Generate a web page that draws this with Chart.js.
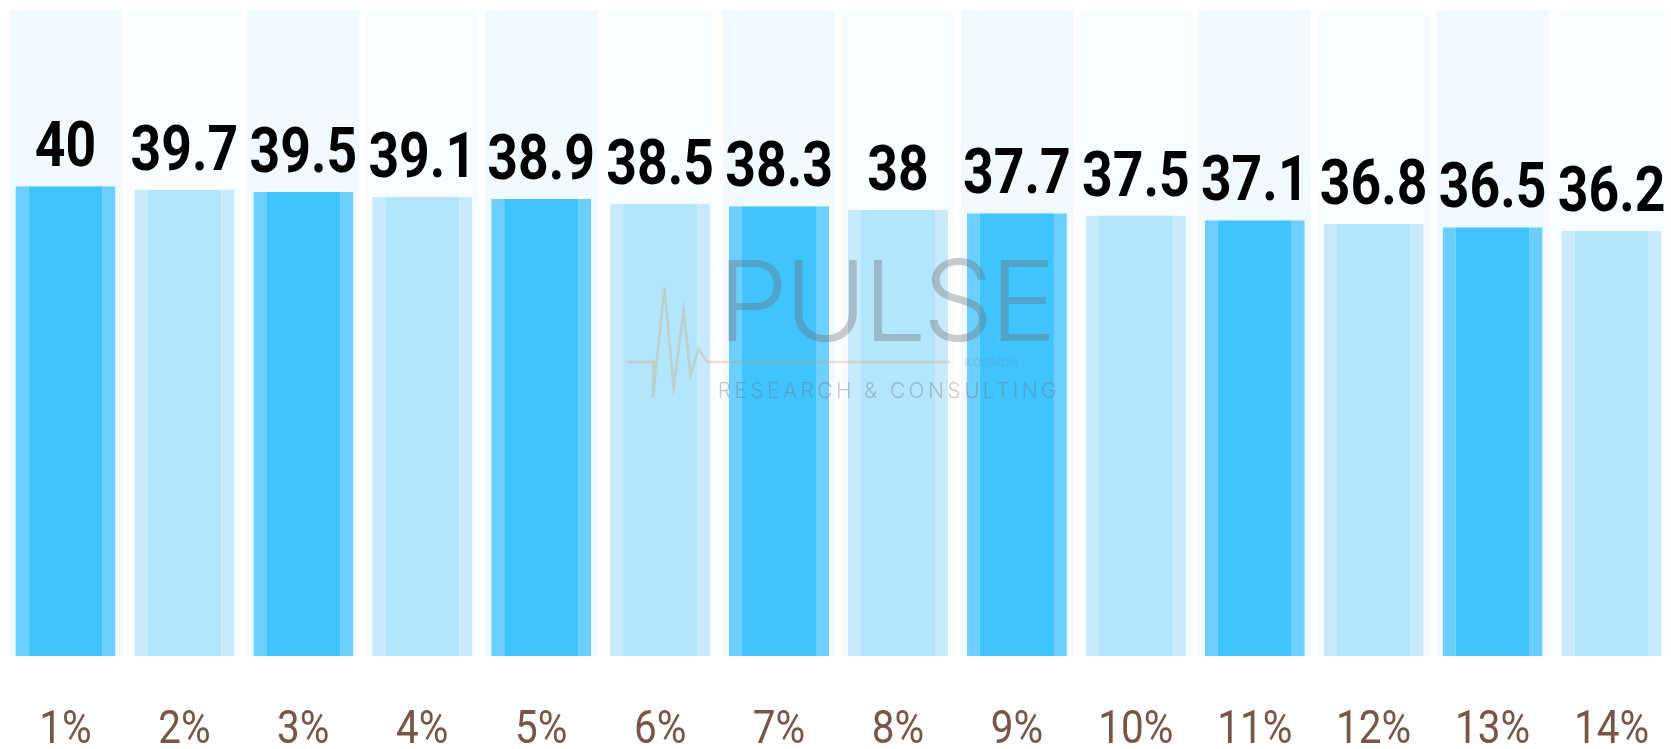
<!DOCTYPE html>
<html>
<head>
<meta charset="utf-8">
<script src="https://cdn.jsdelivr.net/npm/chart.js@4.4.1/dist/chart.umd.min.js"></script>
<style>
  html, body { margin: 0; padding: 0; background: #ffffff; }
  #wrap { width: 1671px; height: 749px; position: relative; }
</style>
</head>
<body>
<div id="wrap"><canvas id="chart"></canvas></div>
<script>
const categories = ['1%', '2%', '3%', '4%', '5%', '6%', '7%', '8%', '9%', '10%', '11%', '12%', '13%', '14%'];
const values = [40, 39.7, 39.5, 39.1, 38.9, 38.5, 38.3, 38, 37.7, 37.5, 37.1, 36.8, 36.5, 36.2];
const backdrop = [55, 55, 55, 55, 55, 55, 55, 55, 55, 55, 55, 55, 55, 55];
const axisMax = 55;

// odd columns are strong blue, even columns pale blue
const pick = (a, b) => categories.map((_, i) => (i % 2 === 0 ? a : b));
const barFill = pick('#40c4ff', '#b3e5fc');
const barEdge = pick('#6ccfff', '#c7ebfc');
const backFill = pick('#f1faff', '#fafdff');

// watermark: PULSE / Research & Consulting
const watermark = {
    id: 'watermark',
    afterDatasetsDraw(chart) {
        const { ctx, chartArea: a } = chart;
        const w = a.right - a.left, h = a.bottom - a.top;
        const x0 = a.left + w * 0.4275, x1 = a.left + w * 0.631;
        ctx.save();
        ctx.globalAlpha = 0.36;
        ctx.fillStyle = '#6b6b6b';
        ctx.textBaseline = 'alphabetic';
        ctx.textAlign = 'left';
        ctx.font = '300 112px Inter, Roboto, sans-serif';
        const big = 'PULSE';
        const bw = ctx.measureText(big).width;
        ctx.letterSpacing = ((x1 - x0 - bw) / (big.length - 1)) + 'px';
        ctx.fillText(big, x0, a.top + h * 0.513);
        ctx.font = '300 21px Inter, Roboto, sans-serif';
        const small = 'RESEARCH & CONSULTING';
        ctx.letterSpacing = '0px';
        const sw = ctx.measureText(small).width;
        ctx.letterSpacing = ((x1 - x0 - sw) / (small.length - 1)) + 'px';
        ctx.fillText(small, x0, a.top + h * 0.6);
        ctx.letterSpacing = '0px';
        ctx.font = 'bold 13px Roboto, sans-serif';
        ctx.globalAlpha = 0.12;
        ctx.fillText('KOSMON', x1 - 92, a.top + h * 0.5525);
        // heartbeat trace
        ctx.globalAlpha = 0.3;
        ctx.strokeStyle = '#c9a25a';
        ctx.lineWidth = 2.5;
        const px = f => a.left + w * f;
        const py = f => a.top + h * f;
        ctx.beginPath();
        ctx.moveTo(px(0.3735), py(0.545));
        ctx.lineTo(px(0.389), py(0.545));
        ctx.lineTo(px(0.3885), py(0.60));
        ctx.lineTo(px(0.3955), py(0.43));
        ctx.lineTo(px(0.401), py(0.585));
        ctx.lineTo(px(0.407), py(0.465));
        ctx.lineTo(px(0.411), py(0.565));
        ctx.lineTo(px(0.416), py(0.525));
        ctx.lineTo(px(0.421), py(0.545));
        ctx.lineTo(px(0.567), py(0.545));
        ctx.stroke();
        ctx.restore();
    }
};

// value labels above bars and category labels under the axis, slightly condensed
const labelsPlugin = {
    id: 'labels',
    afterDraw(chart) {
        const { ctx } = chart;
        const meta = chart.getDatasetMeta(0);
        const xs = chart.scales.x;
        ctx.save();
        ctx.textAlign = 'center';
        ctx.textBaseline = 'alphabetic';
        meta.data.forEach((bar, i) => {
            ctx.save();
            ctx.translate(bar.x, bar.y - 20);
            ctx.scale(0.85, 1);
            ctx.fillStyle = '#000000';
            ctx.font = 'bold 63px Roboto, sans-serif';
            ctx.fillText(String(values[i]), 0, 0);
            ctx.restore();

            ctx.save();
            ctx.translate(xs.getPixelForValue(i), 743);
            ctx.scale(0.88, 1);
            ctx.fillStyle = '#795548';
            ctx.font = '400 46px Roboto, sans-serif';
            ctx.fillText(categories[i], 0, 0);
            ctx.restore();
        });
        ctx.restore();
    }
};

const chart = new Chart(document.getElementById('chart'), {
    type: 'bar',
    data: {
        labels: categories,
        datasets: [{
            data: values,
            backgroundColor: barFill,
            borderColor: barEdge,
            borderWidth: { left: 13, right: 13, top: 0, bottom: 0 },
            borderSkipped: false,
            barPercentage: 0.841,
            categoryPercentage: 1,
            grouped: false,
            order: 0
        }, {
            data: backdrop,
            backgroundColor: backFill,
            borderWidth: 0,
            barPercentage: 0.942,
            categoryPercentage: 1,
            grouped: false,
            order: 1
        }]
    },
    options: {
        responsive: true,
        maintainAspectRatio: false,
        animation: false,
        layout: { padding: { left: 6, right: 0, top: 10, bottom: 93 } },
        plugins: {
            legend: { display: false },
            tooltip: { enabled: false }
        },
        scales: {
            x: { display: false },
            y: { display: false, min: 0, max: axisMax }
        }
    },
    plugins: [watermark, labelsPlugin]
});
</script>
</body>
</html>
